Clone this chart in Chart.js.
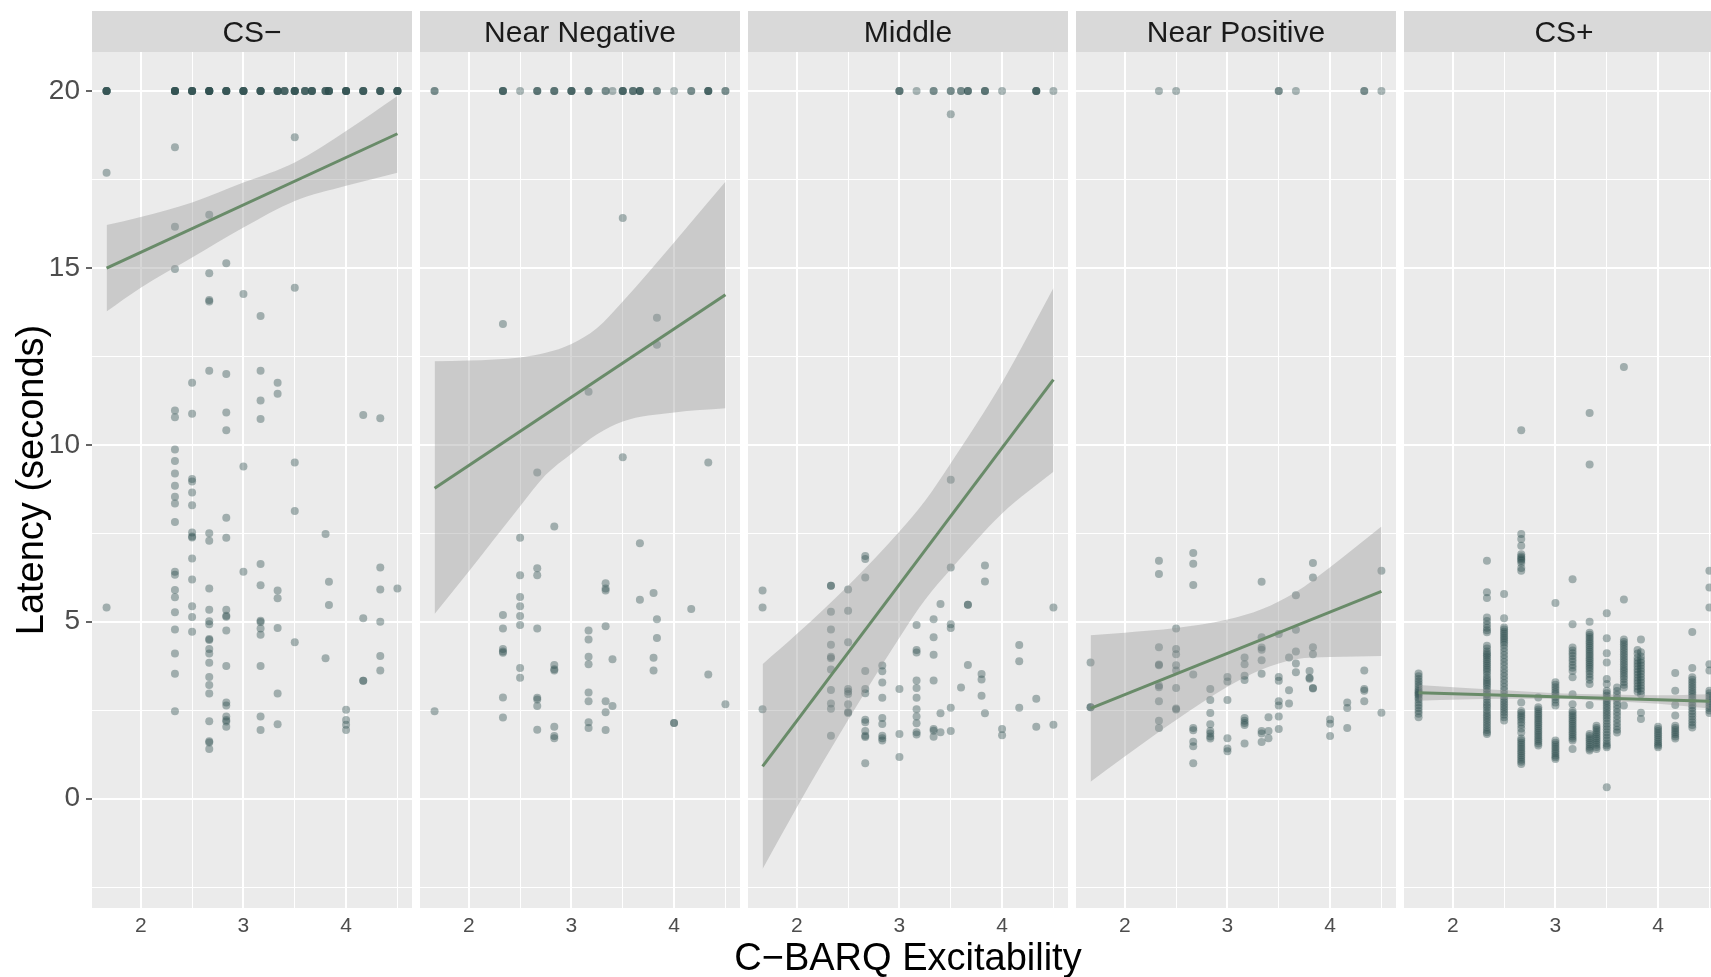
<!DOCTYPE html>
<html>
<head>
<meta charset="utf-8">
<script src="https://cdn.jsdelivr.net/npm/chart.js@4.4.1/dist/chart.umd.min.js"></script>
<style>
  html, body { margin: 0; padding: 0; background: #fff; overflow: hidden; }
  #figure { position: relative; width: 1711px; height: 977px; overflow: hidden; font-family: "Liberation Sans", Arial, sans-serif; }
  #figure canvas { position: absolute; top: 0; }
  .axis-title { position: absolute; font-size: 38px; line-height: 38px; color: #000; white-space: nowrap; text-align: center; width: 600px; }
  #x-title { left: 608px; top: 938px; }
  #y-title { left: -270px; top: 461px; transform: rotate(-90deg); }
</style>
</head>
<body>
<div id="figure">
  <div id="y-title" class="axis-title">Latency (seconds)</div>
  <div id="x-title" class="axis-title">C&minus;BARQ Excitability</div>
</div>
<script>
// ---- data -------------------------------------------------------------

const CEILING = 20; // trials without a response are stored at the 20 s cutoff

const conditions = ['CS\u2212', 'Near Negative', 'Middle', 'Near Positive', 'CS+'];

const xBreaks = [2, 2.5, 3, 3.5, 4, 4.5];
const yBreaks = [-2.5, 0, 2.5, 5, 7.5, 10, 12.5, 15, 17.5, 20];

// [excitability, number of trials at the cutoff]
const csMinusCapped = [[1.667, 6], [2.333, 7], [2.5, 6], [2.667, 8], [2.833, 6], [3.0, 6], [3.167, 6],
  [3.333, 5], [3.4, 4], [3.5, 6], [3.6, 4], [3.667, 5], [3.8, 4], [3.833, 5], [4.0, 6], [4.167, 5],
  [4.333, 5], [4.5, 6]];
const nearNegCapped = [[1.667, 2], [2.333, 4], [2.5, 1], [2.667, 3], [2.833, 3], [3.0, 4], [3.167, 3],
  [3.333, 2], [3.4, 1], [3.5, 4], [3.6, 3], [3.667, 4], [3.833, 2], [4.0, 1], [4.167, 2], [4.333, 4], [4.5, 2]];
const middleCapped = [[3.0, 3], [3.167, 1], [3.333, 2], [3.5, 2], [3.6, 2], [3.667, 3], [3.833, 3],
  [4.0, 1], [4.333, 4], [4.5, 1]];
const nearPosCapped = [[2.333, 1], [2.5, 1], [3.5, 2], [3.667, 1], [4.333, 2], [4.5, 1]];
const csPlusCapped = [];

// [excitability, [latencies]]
const csMinusPoints = [
  [1.667, [17.69, 5.40]],
  [2.333, [18.41, 16.16, 14.97, 10.97, 10.78, 9.87, 9.54, 9.19, 8.84, 8.53, 8.34, 7.82, 6.41, 6.33, 5.90, 5.69, 5.27, 4.78, 4.10, 3.53, 2.47]],
  [2.5, [11.75, 10.88, 9.03, 8.96, 8.65, 8.29, 7.52, 7.41, 7.38, 6.79, 6.19, 5.44, 5.13, 4.72]],
  [2.667, [16.50, 14.85, 14.09, 14.05, 12.09, 7.50, 7.29, 5.94, 5.34, 5.01, 4.93, 4.51, 4.48, 4.23, 4.10, 3.84, 3.44, 3.21, 2.97, 2.19, 1.62, 1.59, 1.40]],
  [2.833, [15.13, 12.00, 10.91, 10.41, 7.94, 7.37, 5.34, 5.17, 5.14, 4.75, 3.75, 2.72, 2.63, 2.32, 2.22, 2.18, 2.03]],
  [3.0, [14.26, 9.39, 6.41]],
  [3.167, [13.64, 12.09, 11.25, 10.73, 6.63, 6.03, 5.03, 4.99, 4.81, 4.63, 3.75, 2.32, 1.94]],
  [3.333, [11.75, 11.44, 5.88, 5.66, 4.82, 2.97, 2.10]],
  [3.5, [18.69, 14.44, 9.50, 8.13, 4.42]],
  [3.8, [7.48, 3.97]],
  [3.833, [6.13, 5.47]],
  [4.0, [2.51, 2.22, 2.09, 1.94]],
  [4.167, [10.84, 5.10, 3.33, 3.33]],
  [4.333, [10.75, 6.53, 5.91, 5.00, 4.03, 3.62]],
  [4.5, [5.94]]
];

const nearNegPoints = [
  [1.667, [2.47]],
  [2.333, [13.41, 5.19, 4.81, 4.23, 4.16, 4.12, 2.86, 2.29]],
  [2.5, [7.37, 6.31, 5.70, 5.44, 5.16, 4.91, 3.69, 3.42]],
  [2.667, [9.22, 6.51, 6.31, 4.81, 2.85, 2.80, 2.62, 1.95]],
  [2.833, [7.69, 3.78, 3.66, 3.62, 2.03, 1.77, 1.71]],
  [3.167, [11.50, 4.75, 4.50, 4.01, 3.80, 3.00, 2.75, 2.16, 2.00]],
  [3.333, [6.09, 5.94, 5.88, 4.87, 2.75, 2.44, 1.94]],
  [3.4, [3.94, 2.62]],
  [3.5, [16.41, 9.65]],
  [3.667, [7.22, 5.62]],
  [3.8, [5.81, 3.98, 3.62]],
  [3.833, [13.59, 12.83, 5.07, 4.54]],
  [4.0, [2.14, 2.14]],
  [4.167, [5.36]],
  [4.333, [9.50, 3.51]],
  [4.5, [2.67]]
];

const middlePoints = [
  [1.667, [5.88, 5.40, 2.53]],
  [2.333, [6.02, 6.02, 5.28, 4.78, 4.35, 4.01, 3.97, 3.65, 3.07, 2.69, 2.54, 1.78]],
  [2.5, [5.91, 5.31, 4.42, 3.10, 3.03, 2.96, 2.67, 2.45, 2.42]],
  [2.667, [6.86, 6.77, 6.25, 3.61, 3.10, 2.98, 2.23, 2.16, 1.91, 1.78, 1.74, 1.00]],
  [2.833, [3.76, 3.60, 3.28, 2.85, 2.28, 2.11, 1.78, 1.71, 1.64]],
  [3.0, [3.10, 1.83, 1.18]],
  [3.167, [4.91, 4.20, 4.13, 3.34, 3.13, 2.85, 2.53, 2.32, 2.13, 1.88, 1.81]],
  [3.333, [5.07, 4.56, 4.07, 3.34, 1.97, 1.92, 1.75]],
  [3.4, [5.50, 2.41, 1.88]],
  [3.5, [19.34, 9.01, 6.53, 4.93, 4.82, 2.57, 1.91]],
  [3.6, [3.14]],
  [3.667, [5.48, 5.48, 3.78]],
  [3.8, [3.52, 3.37, 2.91]],
  [3.833, [6.59, 6.14, 2.41]],
  [4.0, [1.97, 1.79]],
  [4.167, [4.34, 3.88, 2.57]],
  [4.333, [2.82, 2.03]],
  [4.5, [5.40, 2.09]]
];

const nearPosPoints = [
  [1.667, [3.85, 2.58, 2.58]],
  [2.333, [6.72, 6.35, 4.28, 3.79, 3.77, 3.20, 3.15, 2.75, 2.20, 2.00]],
  [2.5, [4.81, 4.23, 4.08, 3.77, 3.62, 3.13, 2.55, 2.52]],
  [2.667, [6.94, 6.64, 6.04, 3.51, 2.00, 1.93, 1.61, 1.48, 1.00]],
  [2.833, [3.10, 2.79, 2.42, 2.10, 1.91, 1.84, 1.76, 1.70]],
  [3.0, [3.44, 3.31, 2.79, 1.71, 1.42, 1.34]],
  [3.167, [3.99, 3.80, 3.47, 3.35, 2.28, 2.20, 2.14, 2.08, 1.56]],
  [3.333, [6.13, 4.56, 4.27, 4.21, 3.91, 3.53, 1.91, 1.84, 1.60]],
  [3.4, [2.30, 1.91, 1.71]],
  [3.5, [4.65, 3.44, 3.33, 2.75, 2.63, 2.32, 1.97]],
  [3.6, [3.99, 3.06, 2.69]],
  [3.667, [5.75, 4.77, 4.16, 3.82, 3.57]],
  [3.8, [3.61, 3.42, 3.39]],
  [3.833, [6.66, 6.25, 4.28, 4.08, 3.13, 3.11]],
  [4.0, [2.24, 2.12, 1.77]],
  [4.167, [2.72, 2.56, 2.00]],
  [4.333, [3.62, 3.10, 3.05, 2.75]],
  [4.5, [6.44, 2.43]]
];

const csPlusPoints = [
  [1.667, [3.54, 3.46, 3.38, 3.31, 3.24, 3.17, 3.10, 3.04, 3.00, 2.96, 2.92, 2.86, 2.80, 2.72, 2.64, 2.56, 2.48, 2.40, 2.30]],
  [2.333, [6.72, 5.83, 5.67, 5.12, 5.02, 4.92, 4.83, 4.76, 4.70, 4.32, 4.24, 4.16, 4.10, 4.05, 4.00, 3.94, 3.88, 3.82, 3.76, 3.70,
    3.64, 3.58, 3.50, 3.42, 3.36, 3.30, 3.24, 3.18, 3.10, 3.02, 2.95, 2.88, 2.80, 2.72, 2.65, 2.58, 2.50, 2.43, 2.36, 2.29,
    2.22, 2.15, 2.08, 2.01, 1.94, 1.88, 1.83]],
  [2.5, [5.78, 5.10, 4.84, 4.78, 4.72, 4.66, 4.60, 4.54, 4.48, 4.42, 4.35, 4.26, 4.16, 4.06, 3.96, 3.86, 3.76, 3.66, 3.56, 3.46,
    3.36, 3.26, 3.16, 3.06, 2.96, 2.88, 2.80, 2.73, 2.66, 2.59, 2.52, 2.45, 2.38, 2.30, 2.21]],
  [2.667, [10.41, 7.48, 7.34, 7.15, 6.91, 6.84, 6.80, 6.76, 6.72, 6.66, 6.52, 6.44, 2.72, 2.48, 2.42, 2.36, 2.30, 2.24, 2.16, 2.08,
    1.98, 1.87, 1.70, 1.64, 1.58, 1.52, 1.46, 1.40, 1.34, 1.28, 1.22, 1.16, 1.10, 1.04, 0.98]],
  [2.833, [2.86, 2.58, 2.52, 2.46, 2.40, 2.34, 2.28, 2.22, 2.16, 2.10, 2.04, 1.98, 1.92, 1.86, 1.80, 1.74, 1.68, 1.62, 1.56, 1.50]],
  [3.0, [5.53, 3.29, 3.22, 3.15, 3.08, 3.01, 2.94, 2.87, 2.80, 2.72, 2.63, 1.64, 1.58, 1.52, 1.46, 1.40, 1.34, 1.28, 1.22, 1.17, 1.12]],
  [3.167, [6.20, 4.93, 4.27, 4.19, 4.11, 4.03, 3.95, 3.87, 3.78, 3.70, 3.61, 3.43, 2.95, 2.67, 2.48, 2.42, 2.36, 2.30, 2.24, 2.18,
    2.12, 2.06, 2.00, 1.94, 1.88, 1.82, 1.76, 1.70, 1.64, 1.40]],
  [3.333, [10.90, 9.44, 5.00, 4.69, 4.63, 4.57, 4.51, 4.45, 4.39, 4.33, 4.27, 4.21, 4.15, 4.09, 4.03, 3.97, 3.91, 3.85, 3.79, 3.73,
    3.67, 3.60, 3.52, 3.44, 3.36, 3.24, 2.65, 1.83, 1.77, 1.71, 1.65, 1.59, 1.53, 1.47, 1.41, 1.36]],
  [3.4, [2.06, 2.00, 1.94, 1.88, 1.82, 1.76, 1.70, 1.64, 1.58, 1.52, 1.46, 1.40]],
  [3.5, [5.24, 4.53, 4.11, 3.85, 3.38, 3.24, 3.05, 2.98, 2.91, 2.84, 2.77, 2.70, 2.63, 2.56, 2.49, 2.42, 2.35, 2.28, 2.20, 2.12,
    2.04, 1.96, 1.88, 1.80, 1.72, 1.64, 1.56, 1.50, 1.45, 0.32]],
  [3.6, [3.14, 3.04, 2.94, 2.84, 2.74, 2.64, 2.54, 2.44, 2.34, 2.24, 2.14, 2.04, 1.95, 1.87]],
  [3.667, [12.20, 5.63, 4.50, 4.43, 4.36, 4.29, 4.22, 4.15, 4.08, 4.01, 3.94, 3.87, 3.80, 3.73, 3.66, 3.59, 3.52, 3.45, 3.38, 3.30,
    3.22, 3.14, 2.63]],
  [3.8, [4.20, 4.10, 3.98, 3.90, 3.82, 3.74, 3.66, 3.58, 3.50, 3.42, 3.34, 3.26, 3.18, 3.10, 3.02]],
  [3.833, [4.50, 4.14, 4.02, 3.92, 3.84, 3.76, 3.68, 3.60, 3.52, 3.44, 3.36, 3.28, 3.20, 3.12, 3.04, 2.95, 2.43, 2.25]],
  [4.0, [2.03, 1.97, 1.91, 1.85, 1.79, 1.73, 1.67, 1.61, 1.55, 1.50, 1.45]],
  [4.167, [3.55, 3.05, 2.65, 2.35, 2.06, 2.00, 1.94, 1.88, 1.82, 1.76, 1.70]],
  [4.333, [4.71, 3.69, 3.43, 3.36, 3.29, 3.22, 3.15, 3.08, 3.01, 2.94, 2.87, 2.80, 2.72, 2.64, 2.56, 2.48, 2.40, 2.32, 2.24, 2.16,
    2.08, 2.01]],
  [4.5, [6.44, 5.97, 5.40, 3.80, 3.62, 3.05, 2.98, 2.91, 2.84, 2.77, 2.70, 2.63, 2.56, 2.49, 2.42]]
];

// linear fit end points [excitability, latency]
const csMinusFit = [[1.667, 14.99], [4.5, 18.79]];
const nearNegFit = [[1.667, 8.77], [4.5, 14.24]];
const middleFit = [[1.667, 0.91], [4.5, 11.84]];
const nearPosFit = [[1.667, 2.55], [4.5, 5.86]];
const csPlusFit = [[1.667, 2.99], [4.5, 2.75]];

// 95% confidence band [excitability, lower, upper]
const csMinusBand = [[1.667, 13.77, 16.21], [2.0, 14.44, 16.44], [2.5, 15.29, 16.85], [3.0, 16.14, 17.41],
  [3.5, 16.89, 17.98], [4.0, 17.32, 18.87], [4.5, 17.69, 19.86]];
const nearNegBand = [[1.667, 5.22, 12.36], [2.0, 6.42, 12.38], [2.5, 8.26, 12.47], [2.75, 9.15, 12.60],
  [3.0, 9.75, 12.85], [3.25, 10.30, 13.30], [3.5, 10.66, 14.05], [4.0, 10.91, 15.72], [4.5, 11.03, 17.43]];
const middleBand = [[1.667, -1.99, 3.80], [2.0, -0.25, 4.65], [2.5, 2.22, 6.02], [3.0, 4.55, 7.55],
  [3.25, 5.62, 8.42], [3.5, 6.48, 9.48], [4.0, 8.06, 11.76], [4.5, 9.24, 14.43]];
const nearPosBand = [[1.667, 0.48, 4.62], [2.0, 1.19, 4.69], [2.5, 2.22, 4.82], [3.0, 3.16, 5.06],
  [3.333, 3.65, 5.35], [3.667, 3.94, 5.84], [4.0, 4.00, 6.54], [4.5, 4.03, 7.69]];
const csPlusBand = [[1.667, 2.77, 3.21], [2.5, 2.82, 3.06], [3.0, 2.82, 2.98], [3.5, 2.76, 2.94],
  [4.0, 2.68, 2.92], [4.5, 2.55, 2.95]];

// ---- layout -----------------------------------------------------------

const X_MIN = 1.525, X_MAX = 4.642;
const Y_MIN = -3.09, Y_MAX = 21.1;
const PANEL_LEFT = 92, PANEL_WIDTH = 320, PANEL_GAP = 8;
const STRIP_TOP = 11, PANEL_TOP = 52, CANVAS_HEIGHT = 977, X_AXIS_HEIGHT = 69;
const FONT = '"Liberation Sans", Arial, sans-serif';

const POINT_COLOR = 'rgba(47, 79, 79, 0.4)';
const FIT_COLOR = '#698B69';
const BAND_COLOR = 'rgba(153, 153, 153, 0.4)';

Chart.defaults.font.family = FONT;

const panels = [
  { label: conditions[0], capped: csMinusCapped, points: csMinusPoints, fit: csMinusFit, band: csMinusBand },
  { label: conditions[1], capped: nearNegCapped, points: nearNegPoints, fit: nearNegFit, band: nearNegBand },
  { label: conditions[2], capped: middleCapped, points: middlePoints, fit: middleFit, band: middleBand },
  { label: conditions[3], capped: nearPosCapped, points: nearPosPoints, fit: nearPosFit, band: nearPosBand },
  { label: conditions[4], capped: csPlusCapped, points: csPlusPoints, fit: csPlusFit, band: csPlusBand }
];

function toXY(points, capped) {
  const out = [];
  capped.forEach(([x, n]) => {
    for (let i = 0; i < n; i++) out.push({ x, y: CEILING });
  });
  points.forEach(([x, ys]) => ys.forEach(y => out.push({ x, y })));
  return out;
}

const isWhole = v => Math.abs(v - Math.round(v)) < 1e-9;
const isMajor = v => isWhole(v) && Math.round(v) % 5 === 0;

// grey panel background and facet strip
const facetPlugin = {
  id: 'facet',
  beforeDraw(chart, args, opts) {
    const { ctx, chartArea: a } = chart;
    ctx.save();
    ctx.fillStyle = '#EBEBEB';
    ctx.fillRect(a.left, a.top, a.right - a.left, a.bottom - a.top);
    ctx.fillStyle = '#D9D9D9';
    ctx.fillRect(a.left, STRIP_TOP, a.right - a.left, a.top - STRIP_TOP);
    ctx.fillStyle = '#1A1A1A';
    ctx.font = '30px ' + FONT;
    ctx.textAlign = 'center';
    ctx.textBaseline = 'middle';
    ctx.fillText(opts.label, (a.left + a.right) / 2, (STRIP_TOP + a.top) / 2 + 2);
    ctx.restore();
  }
};

const figure = document.getElementById('figure');

panels.forEach((panel, i) => {
  const first = i === 0;
  const canvas = document.createElement('canvas');
  const left = first ? 0 : PANEL_LEFT + i * (PANEL_WIDTH + PANEL_GAP);
  const width = first ? PANEL_LEFT + PANEL_WIDTH : PANEL_WIDTH;
  canvas.width = width;
  canvas.height = CANVAS_HEIGHT;
  canvas.style.left = left + 'px';
  canvas.style.width = width + 'px';
  canvas.style.height = CANVAS_HEIGHT + 'px';
  figure.insertBefore(canvas, figure.firstChild);

  new Chart(canvas, {
    type: 'scatter',
    data: {
      datasets: [
        {
          type: 'line',
          data: panel.band.map(([x, lo, hi]) => ({ x, y: hi })),
          borderWidth: 0,
          pointRadius: 0,
          fill: '+1',
          backgroundColor: BAND_COLOR,
          cubicInterpolationMode: 'monotone',
          order: 2
        },
        {
          type: 'line',
          data: panel.band.map(([x, lo, hi]) => ({ x, y: lo })),
          borderWidth: 0,
          pointRadius: 0,
          fill: false,
          cubicInterpolationMode: 'monotone',
          order: 2
        },
        {
          type: 'line',
          data: panel.fit.map(([x, y]) => ({ x, y })),
          borderColor: FIT_COLOR,
          borderWidth: 3,
          pointRadius: 0,
          fill: false,
          order: 1
        },
        {
          type: 'scatter',
          data: toXY(panel.points, panel.capped),
          pointRadius: 4,
          pointBackgroundColor: POINT_COLOR,
          backgroundColor: POINT_COLOR,
          borderWidth: 0,
          pointBorderWidth: 0,
          order: 3
        }
      ]
    },
    options: {
      responsive: false,
      animation: false,
      devicePixelRatio: 1,
      events: [],
      layout: { autoPadding: false, padding: { top: PANEL_TOP, left: 0, right: 0, bottom: 0 } },
      plugins: {
        legend: { display: false },
        tooltip: { enabled: false },
        facet: { label: panel.label }
      },
      scales: {
        x: {
          type: 'linear',
          min: X_MIN,
          max: X_MAX,
          afterBuildTicks: s => { s.ticks = xBreaks.map(value => ({ value })); },
          afterFit: s => { s.height = X_AXIS_HEIGHT; },
          border: { display: false },
          grid: {
            color: '#FFFFFF',
            lineWidth: c => (c.tick && isWhole(c.tick.value) ? 2 : 1),
            drawTicks: false
          },
          ticks: {
            autoSkip: false,
            maxRotation: 0,
            padding: 6,
            color: '#4D4D4D',
            font: { size: 21 },
            callback: v => (isWhole(v) ? String(Math.round(v)) : '')
          }
        },
        y: {
          type: 'linear',
          min: Y_MIN,
          max: Y_MAX,
          afterBuildTicks: s => { s.ticks = yBreaks.map(value => ({ value })); },
          afterFit: s => { s.width = first ? PANEL_LEFT : 0; },
          border: { display: false },
          grid: {
            color: '#FFFFFF',
            lineWidth: c => (c.tick && isMajor(c.tick.value) ? 2 : 1),
            drawTicks: first,
            tickLength: 6,
            tickWidth: 1.5,
            tickColor: c => (c.tick && isMajor(c.tick.value) ? '#333333' : 'rgba(0,0,0,0)')
          },
          ticks: {
            display: first,
            autoSkip: false,
            padding: 6,
            color: '#4D4D4D',
            font: { size: 28 },
            callback: v => (isMajor(v) ? String(Math.round(v)) : '')
          }
        }
      }
    },
    plugins: [facetPlugin]
  });
});
</script>
</body>
</html>
